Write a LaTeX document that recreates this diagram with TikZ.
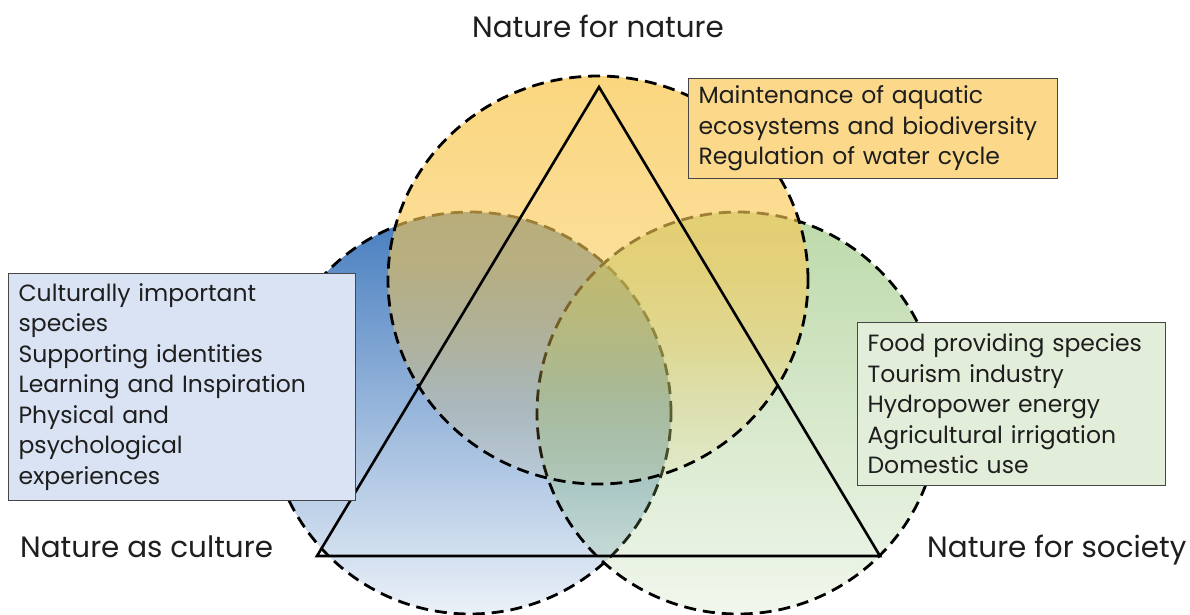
\documentclass[tikz,border=0pt]{standalone}
\usepackage{fontspec}
\setmainfont{Poppins}
\usetikzlibrary{fadings}
\definecolor{bluec}{RGB}{66,122,190}
\definecolor{greenc}{RGB}{141,191,108}
\definecolor{yellowc}{RGB}{249,201,84}
\definecolor{yboxfill}{RGB}{251,216,138}
\definecolor{bboxfill}{RGB}{218,227,243}
\definecolor{gboxfill}{RGB}{226,238,218}
\definecolor{boxline}{RGB}{70,70,70}
\definecolor{txt}{RGB}{30,30,30}

\pgfdeclareverticalshading{yfadeshade}{100bp}{color(0bp)=(transparent!92); color(25bp)=(transparent!92); color(35bp)=(transparent!78); color(42.5bp)=(transparent!58); color(52.5bp)=(transparent!40); color(75bp)=(transparent!25); color(100bp)=(transparent!25)}

\begin{tikzfadingfrompicture}[name=bluefade]
\shade[top color=transparent!2, bottom color=transparent!90] (-25bp,-25bp) rectangle (25bp,25bp);
\end{tikzfadingfrompicture}
\begin{tikzfadingfrompicture}[name=greenfade]
\shade[top color=transparent!42, bottom color=transparent!88] (-25bp,-25bp) rectangle (25bp,25bp);
\end{tikzfadingfrompicture}
\begin{tikzfadingfrompicture}[name=yellowfade]
\shade[shading=yfadeshade] (-25bp,-25bp) rectangle (25bp,25bp);
\end{tikzfadingfrompicture}

\begin{document}
\begin{tikzpicture}[x=1pt,y=-1pt,
  venn/.style={draw=black, line width=2.8pt, dash pattern=on 12pt off 7pt},
  tri/.style={draw=black, line width=2.6pt, line join=miter},
  box/.style={draw=boxline, line width=1.2pt, inner xsep=10pt, inner ysep=0pt,
    align=left, anchor=north west, text=txt, font=\fontsize{23.5}{30.5}\selectfont},
  lab/.style={text=txt, font=\fontsize{29.4}{34}\selectfont, inner sep=0pt}]
\useasboundingbox (0,0) rectangle (1190,614);
\fill[white] (0,0) rectangle (1190,614);

% circles
\fill[bluec, path fading=bluefade, fit fading=true] (470,413) circle[radius=201pt];
\draw[venn] (470,413) circle[radius=201pt];
\fill[greenc, path fading=greenfade, fit fading=true] (738,413) circle[radius=201pt];
\draw[venn] (738,413) circle[radius=201pt];
\fill[yellowc, path fading=yellowfade, fit fading=true] (598,280) ellipse[x radius=210pt, y radius=204pt];
\draw[venn] (598,280) ellipse[x radius=210pt, y radius=204pt];

% triangle
\coordinate (T) at (599,87);
\coordinate (L) at (317,556);
\coordinate (R) at (880,556);
\draw[tri] (T) -- (L) -- (R) -- cycle;

% boxes
\node[box, fill=yboxfill, minimum width=369pt, minimum height=100pt, text width=349pt] (ybox) at (688,78)
  {Maintenance of aquatic\\ecosystems and biodiversity\\Regulation of water cycle};
\node[box, fill=bboxfill, minimum width=347pt, minimum height=227pt, text width=327pt] (bbox) at (8,273)
  {Culturally important\\species\\Supporting identities\\Learning and Inspiration\\Physical and\\psychological\\experiences};
\node[box, fill=gboxfill, minimum width=308pt, minimum height=163pt, text width=288pt] (gbox) at (857,322)
  {Food providing species\\Tourism industry\\Hydropower energy\\Agricultural irrigation\\Domestic use};

% labels
\node[lab, anchor=base] (nfn) at (598,37) {Nature for nature};
\node[lab, anchor=base west] (nac) at (20,557) {Nature as culture};
\node[lab, anchor=base west] (nfs) at (927,557) {Nature for society};
\end{tikzpicture}
\end{document}
